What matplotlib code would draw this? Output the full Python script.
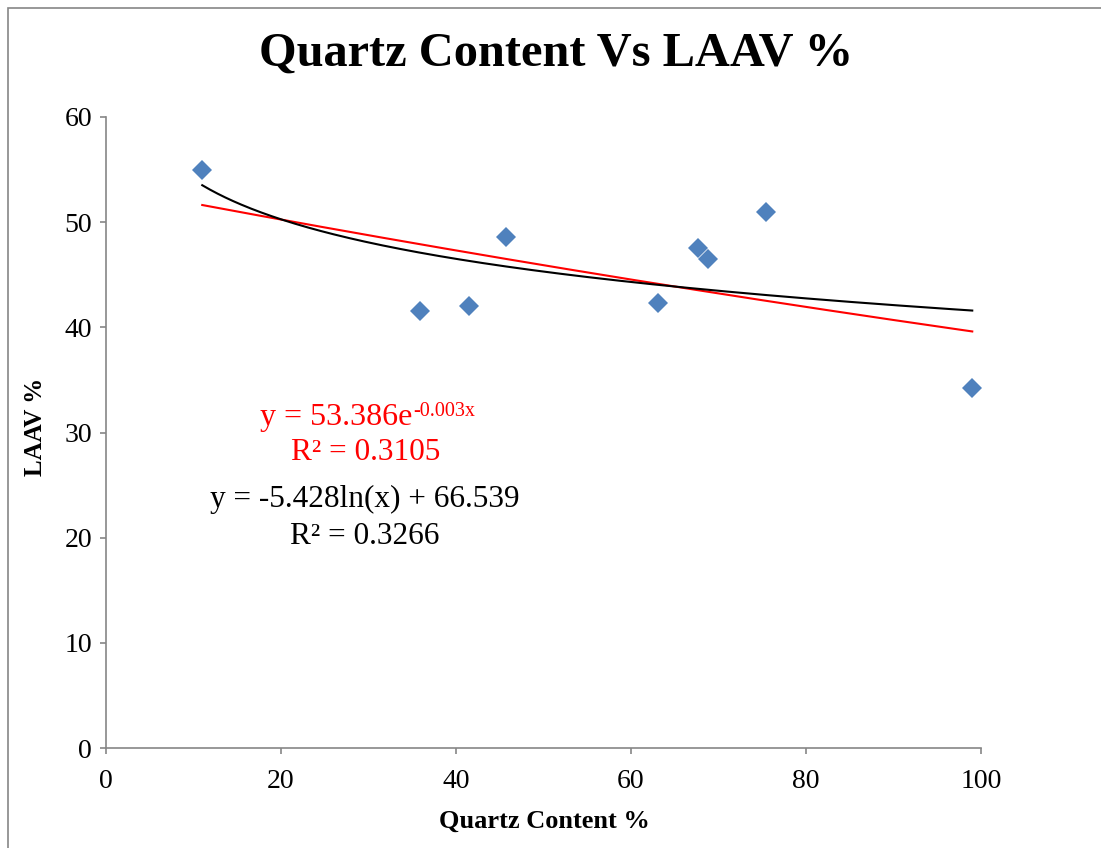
import numpy as np
import matplotlib
matplotlib.use("Agg")
import matplotlib.pyplot as plt
from matplotlib.patches import Rectangle

# Data
quartz = [11.0, 35.9, 41.5, 45.7, 63.1, 67.7, 68.8, 75.4, 99.0]
laav = [55.0, 41.6, 42.0, 48.6, 42.3, 47.5, 46.5, 50.95, 34.2]
x_ticks = [0, 20, 40, 60, 80, 100]
y_ticks = [0, 10, 20, 30, 40, 50, 60]

title = "Quartz Content Vs LAAV %"
xlabel = "Quartz Content %"
ylabel = "LAAV %"
exp_eq = "y = 53.386e"
exp_sup = "-0.003x"
exp_r2 = "R² = 0.3105"
log_eq = "y = -5.428ln(x) + 66.539"
log_r2 = "R² = 0.3266"

plt.rcParams['font.family'] = ['Liberation Serif', 'DejaVu Serif']

W, H = 1101, 848
fig = plt.figure(figsize=(W / 100, H / 100), dpi=100)
fig.patches.append(Rectangle((8 / W, -0.01), 1.1, 1 - 8 / H + 0.01,
                             transform=fig.transFigure, fill=False,
                             edgecolor='#868686', linewidth=1.2, zorder=0))

ax = fig.add_axes([106 / W, 1 - 748 / H, (981 - 106) / W, (748 - 117) / H])

x = np.array(quartz)
y = np.array(laav)
xs = np.linspace(x.min(), x.max(), 300)

# exponential trendline
b, lna = np.polyfit(x, np.log(y), 1)
ax.plot(xs, np.exp(lna) * np.exp(b * xs), color='#FF0000', linewidth=1.5, zorder=2)
# logarithmic trendline
m, c = np.polyfit(np.log(x), y, 1)
ax.plot(xs, m * np.log(xs) + c, color='black', linewidth=1.5, zorder=2)

ax.plot(x, y, linestyle='none', marker='D', markersize=10.5,
        color='#4F81BD', markeredgewidth=0, zorder=3)

ax.set_xlim(0, 100)
ax.set_ylim(0, 60)
ax.set_xticks(x_ticks)
ax.set_yticks(y_ticks)
for s in ['top', 'right']:
    ax.spines[s].set_visible(False)
for s in ['left', 'bottom']:
    ax.spines[s].set_color('#868686')
    ax.spines[s].set_linewidth(1.2)
ax.tick_params(axis='both', direction='out', length=4.5, width=1.2,
               color='#868686', labelsize=20, labelcolor='black')
ax.tick_params(axis='x', pad=10.5)
ax.tick_params(axis='y', pad=5.5)

fig.text(544 / W, 1 - 821 / H, xlabel, fontsize=19, fontweight='bold',
         ha='center', va='center')
fig.text(36 / W, 1 - 427 / H, ylabel, fontsize=18, fontweight='bold',
         ha='center', va='center', rotation=90)
fig.text(556 / W, 1 - 54 / H, title, fontsize=34.8, fontweight='bold',
         ha='center', va='center')

# exponential equation with superscript
t1 = fig.text(260 / W, 1 - 425 / H, exp_eq, fontsize=23, color='#FF0000',
              ha='left', va='baseline')
fig.canvas.draw()
bb = t1.get_window_extent()
fig.text((bb.x1 + 1) / W, 1 - 416 / H, exp_sup, fontsize=14.5, color='#FF0000',
         ha='left', va='baseline')

fig.text(366 / W, 1 - 452 / H, exp_r2, fontsize=22.5, color='#FF0000',
         ha='center', va='center')
fig.text(365 / W, 1 - 499 / H, log_eq, fontsize=22.5, color='black',
         ha='center', va='center')
fig.text(365 / W, 1 - 536 / H, log_r2, fontsize=22.5, color='black',
         ha='center', va='center')

fig.savefig("out.png", dpi=100)
